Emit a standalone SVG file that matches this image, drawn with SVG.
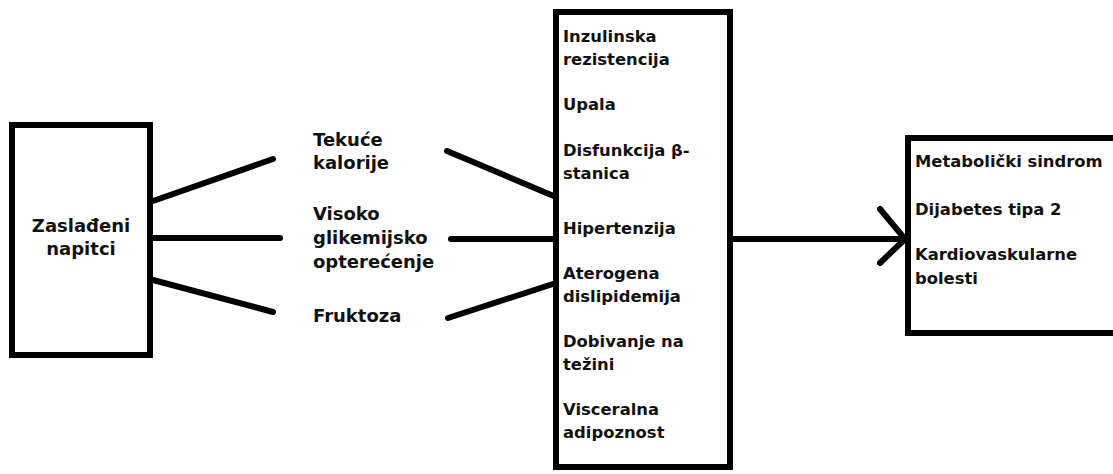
<svg xmlns="http://www.w3.org/2000/svg" width="1113" height="474" viewBox="0 0 1113 474">
<style>
.box{fill:#fff;stroke:#000;stroke-width:6}
.ln{stroke:#000;stroke-width:6;stroke-linecap:round;fill:none}
text{font-family:"DejaVu Sans",Verdana,sans-serif;font-weight:bold;fill:#111}
.lg{font-size:18px}
.sm{font-size:16.4px}
</style>
<rect width="1113" height="474" fill="#fff"/>
<g id="node-zasladeni">
<rect class="box" x="12" y="125" width="138" height="230"/>
<text class="lg" x="81" y="232" text-anchor="middle">Zaslađeni</text>
<text class="lg" x="81" y="255" text-anchor="middle">napitci</text>
</g>
<g id="node-tekuce">
<text class="lg" x="313" y="146">Tekuće</text>
<text class="lg" x="313" y="169">kalorije</text>
</g>
<g id="node-visoko">
<text class="lg" x="313" y="220">Visoko</text>
<text class="lg" x="313" y="244">glikemijsko</text>
<text class="lg" x="313" y="268">opterećenje</text>
</g>
<g id="node-fruktoza">
<text class="lg" x="313" y="322">Fruktoza</text>
</g>
<g id="node-ucinci">
<rect class="box" x="556" y="12" width="174" height="455"/>
<text class="sm" x="563" y="42">Inzulinska</text>
<text class="sm" x="563" y="65">rezistencija</text>
<text class="sm" x="563" y="110">Upala</text>
<text class="sm" x="563" y="156">Disfunkcija β-</text>
<text class="sm" x="563" y="179">stanica</text>
<text class="sm" x="563" y="234">Hipertenzija</text>
<text class="sm" x="563" y="279">Aterogena</text>
<text class="sm" x="563" y="302">dislipidemija</text>
<text class="sm" x="563" y="347">Dobivanje na</text>
<text class="sm" x="563" y="370">težini</text>
<text class="sm" x="563" y="415">Visceralna</text>
<text class="sm" x="563" y="438">adipoznost</text>
</g>
<g id="node-bolesti">
<rect class="box" x="908" y="138" width="215" height="195"/>
<text class="sm" x="915" y="167">Metabolički sindrom</text>
<text class="sm" x="915" y="215">Dijabetes tipa 2</text>
<text class="sm" x="915" y="260">Kardiovaskularne</text>
<text class="sm" x="915" y="284">bolesti</text>
</g>
<g id="connectors">
<line class="ln" x1="153" y1="201" x2="273" y2="159"/>
<line class="ln" x1="153" y1="238" x2="280" y2="238"/>
<line class="ln" x1="153" y1="280" x2="273" y2="312"/>
<line class="ln" x1="447" y1="151" x2="556" y2="197"/>
<line class="ln" x1="451" y1="239" x2="556" y2="239"/>
<line class="ln" x1="448" y1="318" x2="556" y2="283"/>
<line class="ln" x1="733" y1="239" x2="905" y2="239"/>
<polyline class="ln" points="880,209 905,239 880,263"/>
</g>
</svg>
